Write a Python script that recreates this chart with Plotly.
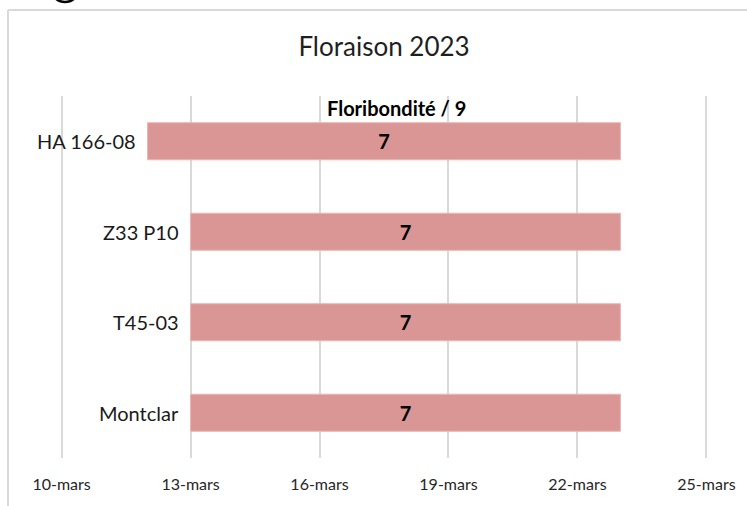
import plotly.graph_objects as go
import pandas as pd

categories = ["HA 166-08", "Z33 P10", "T45-03", "Montclar"]
start_dates = ["2023-03-12", "2023-03-13", "2023-03-13", "2023-03-13"]
end_dates = ["2023-03-23", "2023-03-23", "2023-03-23", "2023-03-23"]
floribondite = [7, 7, 7, 7]
tick_dates = ["2023-03-10", "2023-03-13", "2023-03-16", "2023-03-19", "2023-03-22", "2023-03-25"]
tick_labels = ["10-mars", "13-mars", "16-mars", "19-mars", "22-mars", "25-mars"]

FONT = "Lato, Noto Sans, sans-serif"

durations = [
    (pd.Timestamp(e) - pd.Timestamp(s)).total_seconds() * 1000
    for s, e in zip(start_dates, end_dates)
]

# plot area in pixels
L, R = 58, 710
T, B = 96, 458
W = R - L
H = B - T

def px(x):
    return (x - L) / W

def py(y):
    return (B - y) / H

fig = go.Figure()
fig.add_trace(go.Bar(
    y=categories,
    x=durations,
    base=start_dates,
    orientation="h",
    width=0.41,
    marker=dict(color="#DA9694", line=dict(color="#E8B7B5", width=1)),
    text=[f"<b>{v}</b>" for v in floribondite],
    textposition="inside",
    insidetextanchor="middle",
    textfont=dict(family=FONT, size=20, color="#000000"),
    hoverinfo="skip",
))

annotations = []
for c, s in zip(categories, start_dates):
    annotations.append(dict(
        x=s, y=c, xref="x", yref="y", text=c, showarrow=False,
        xanchor="right", yanchor="middle", xshift=-10,
        font=dict(family=FONT, size=20, color="#1a1a1a"),
    ))
annotations.append(dict(
    x=px(396), y=py(108), xref="paper", yref="paper",
    text="<b>Floribondité / 9</b>", showarrow=False,
    xanchor="center", yanchor="middle",
    font=dict(family=FONT, size=20, color="#000000"),
))

shapes = [
    dict(type="line", xref="paper", yref="paper",
         x0=px(8), x1=px(8), y0=py(520), y1=py(10),
         line=dict(color="#D9D9D9", width=2)),
    dict(type="line", xref="paper", yref="paper",
         x0=px(8), x1=px(760), y0=py(10), y1=py(10),
         line=dict(color="#D9D9D9", width=2)),
    dict(type="circle", xref="paper", yref="paper",
         x0=px(50), x1=px(80), y0=py(2), y1=py(-30),
         line=dict(color="#000000", width=2.5)),
]

fig.update_layout(
    width=747, height=506,
    margin=dict(l=L, r=747 - R, t=T, b=506 - B),
    paper_bgcolor="white", plot_bgcolor="white",
    showlegend=False,
    title=dict(text="Floraison 2023", x=384 / 747, xanchor="center",
               y=1 - 47 / 506, yanchor="middle",
               font=dict(family=FONT, size=26, color="#1f1f1f")),
    xaxis=dict(
        type="date",
        range=["2023-03-09 22:00", "2023-03-25 02:00"],
        tickvals=tick_dates, ticktext=tick_labels,
        showgrid=True, gridcolor="#D9D9D9", gridwidth=1.5,
        zeroline=False, showline=False, ticks="",
        ticklabelstandoff=15,
        tickfont=dict(family=FONT, size=16, color="#262626"),
    ),
    yaxis=dict(
        type="category",
        categoryorder="array", categoryarray=categories,
        range=[3.5, -0.5],
        showticklabels=False, showgrid=False, zeroline=False, showline=False,
    ),
    annotations=annotations,
    shapes=shapes,
)

fig.write_html("out.html", config={"displayModeBar": False},
               post_script="document.body.style.margin='0';")
